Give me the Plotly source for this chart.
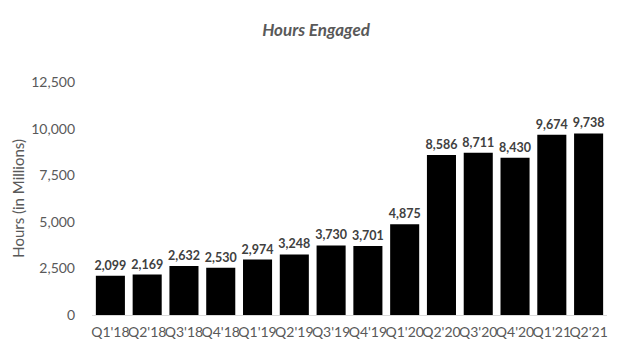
import plotly.graph_objects as go

quarters = ["Q1'18", "Q2'18", "Q3'18", "Q4'18", "Q1'19", "Q2'19", "Q3'19", "Q4'19",
            "Q1'20", "Q2'20", "Q3'20", "Q4'20", "Q1'21", "Q2'21"]
hours = [2099, 2169, 2632, 2530, 2974, 3248, 3730, 3701, 4875, 8586, 8711, 8430, 9674, 9738]
y_ticks = [0, 2500, 5000, 7500, 10000, 12500]

font_family = "Lato, Liberation Sans, sans-serif"

fig = go.Figure(go.Bar(
    x=quarters, y=hours,
    marker=dict(color="black", line=dict(width=0)),
    text=[f"{v:,}" for v in hours],
    textposition="outside",
    constraintext="none",
    textfont=dict(family=font_family, size=12.5, color="#404040", weight="bold"),
    cliponaxis=False,
))

fig.update_layout(
    width=632, height=354,
    margin=dict(l=92, r=25, t=82, b=39, autoexpand=False),
    paper_bgcolor="white", plot_bgcolor="white",
    bargap=0.21,
    showlegend=False,
    title=dict(text="<b><i>Hours Engaged</i></b>", x=0.5, xanchor="center", y=0.915, yanchor="middle",
               font=dict(family=font_family, size=17, color="#595959")),
    xaxis=dict(showgrid=False, showline=True, linecolor="#d9d9d9", linewidth=1,
               ticks="", tickangle=0, automargin=False, ticklabelstandoff=4,
               tickfont=dict(family=font_family, size=14, color="#595959")),
    yaxis=dict(range=[0, 12500], tickvals=y_ticks, tickformat=",", showgrid=False,
               zeroline=False, showline=False, ticks="", ticklen=0, automargin=False,
               ticklabelstandoff=16,
               tickfont=dict(family=font_family, size=14, color="#595959")),
    annotations=[dict(text="Hours (in Millions)", textangle=-90, xref="paper", yref="paper",
                      x=-0.145, y=0.5, xanchor="center", yanchor="middle", showarrow=False,
                      font=dict(family=font_family, size=15, color="#595959"))],
)

fig.write_html("out.html")
